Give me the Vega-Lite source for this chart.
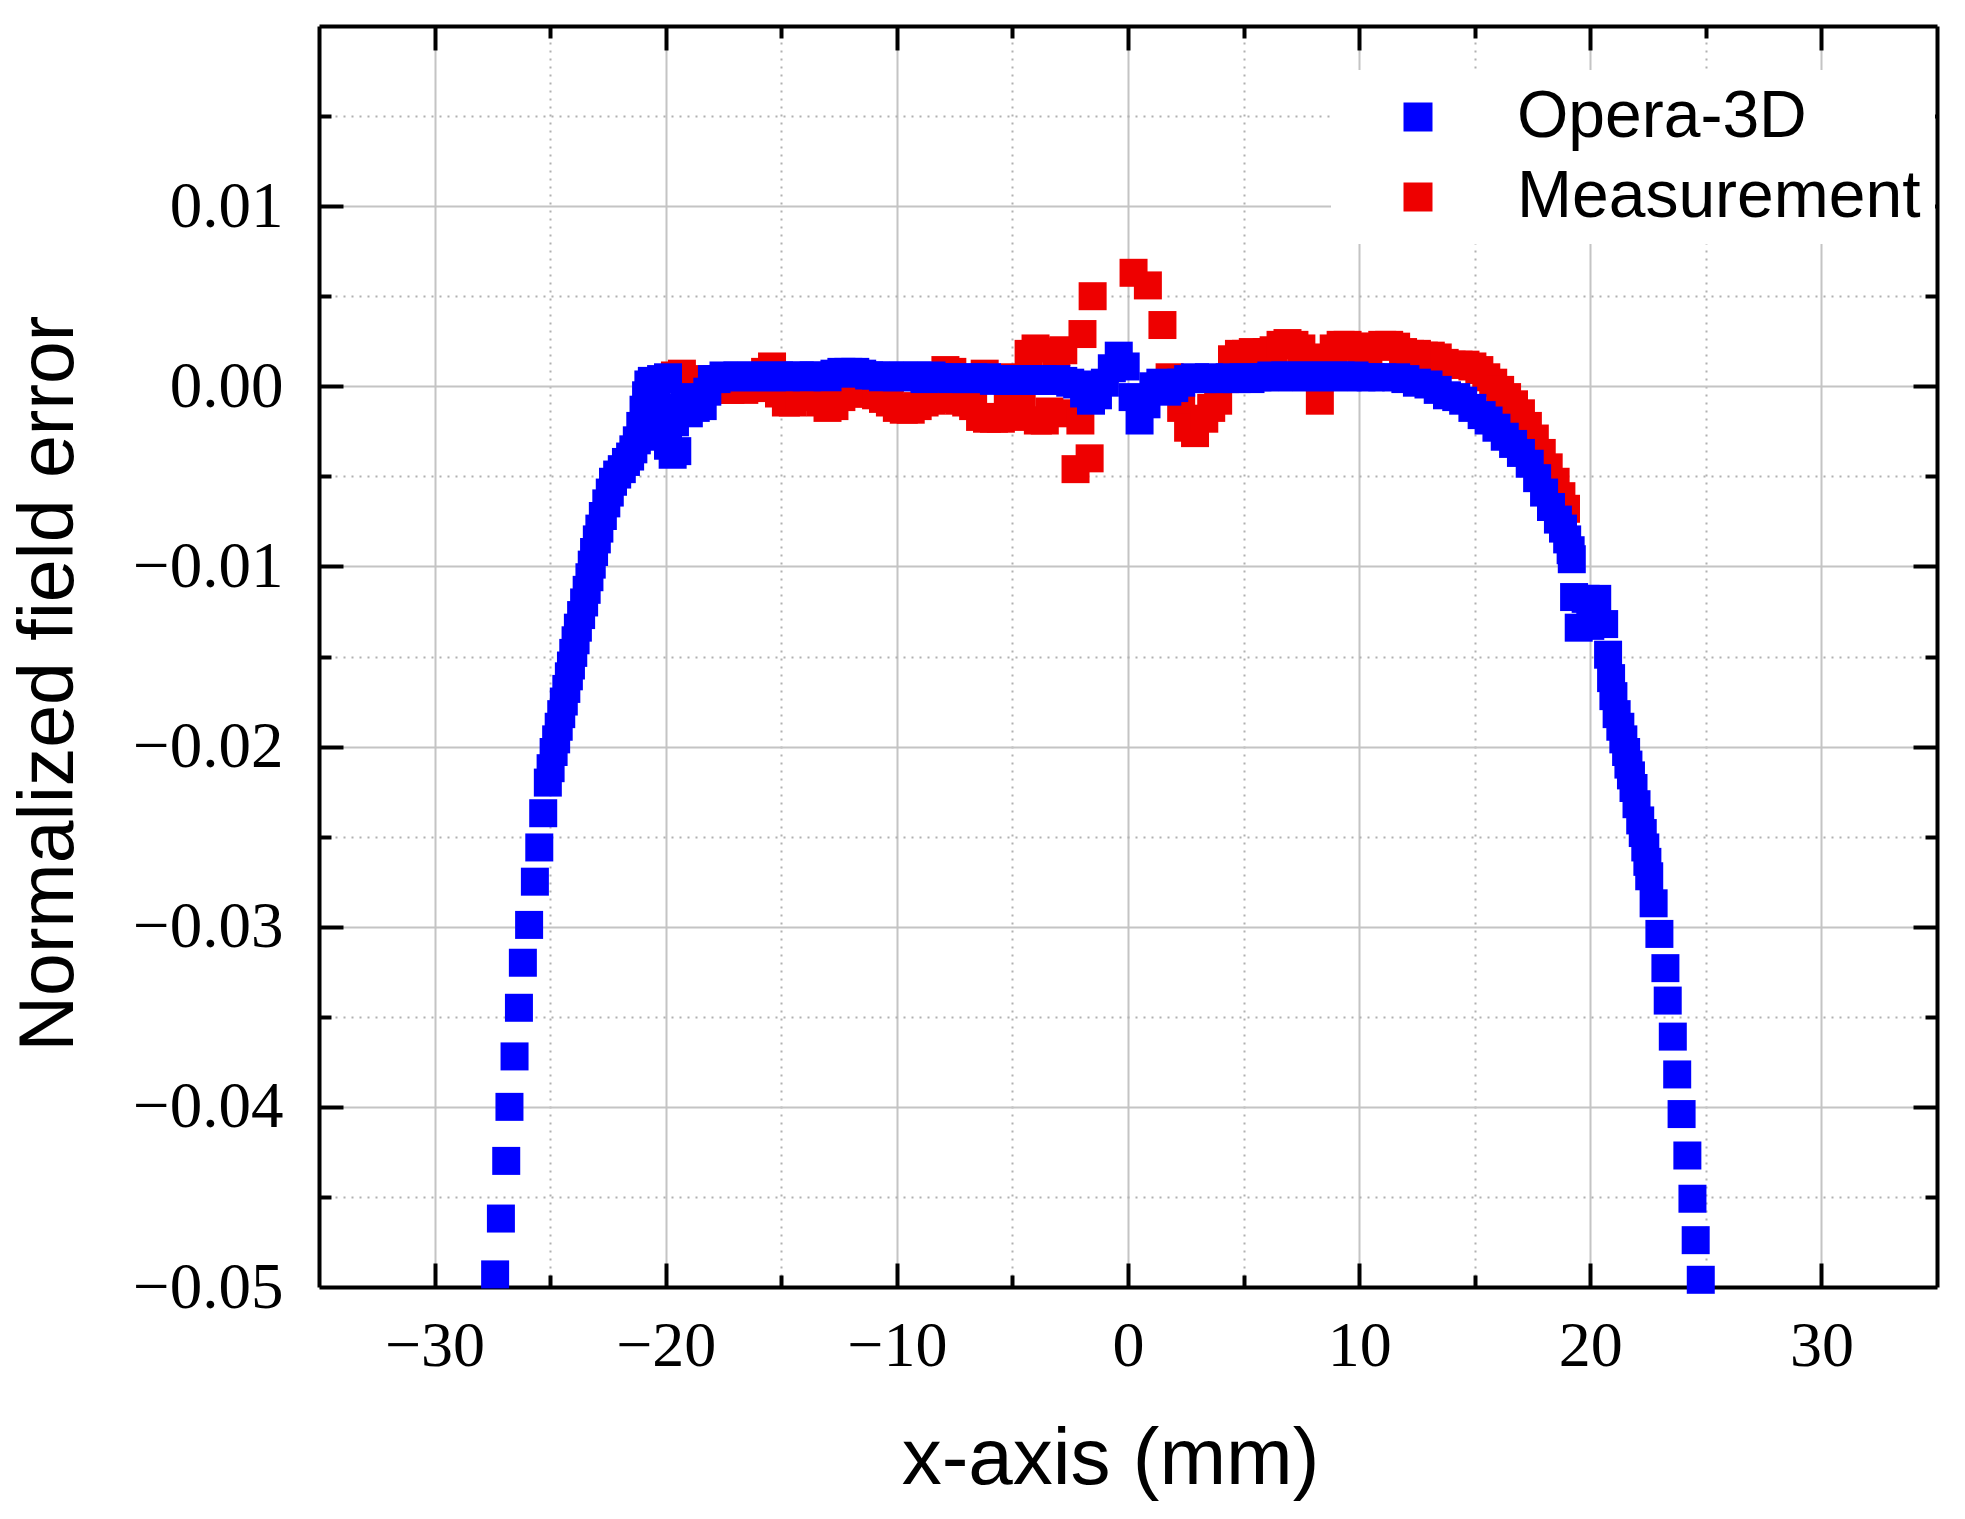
{
"$schema": "https://vega.github.io/schema/vega-lite/v6.json",
"width": 1618, "height": 1261,
"autosize": "none",
"padding": {"left": 319, "top": 26, "right": 28, "bottom": 232},
"background": "white",
"config": {"view": {"stroke": null}},
"datasets": {
"pts": [
{"s":"Measurement","x":-19.6,"y":0.0006},{"s":"Measurement","x":-19.3,"y":0.0007},{"s":"Measurement","x":-19.0,"y":0.0004},{"s":"Measurement","x":-18.7,"y":0.0002},{"s":"Measurement","x":-18.4,"y":0.0},{"s":"Measurement","x":-18.1,"y":-0.0001},{"s":"Measurement","x":-17.8,"y":-0.0002},{"s":"Measurement","x":-17.5,"y":-0.0001},{"s":"Measurement","x":-17.2,"y":-0.0002},{"s":"Measurement","x":-16.9,"y":-0.0001},{"s":"Measurement","x":-16.6,"y":-0.0002},{"s":"Measurement","x":-16.3,"y":-0.0001},{"s":"Measurement","x":-16.0,"y":0.0002},{"s":"Measurement","x":-15.7,"y":0.0008},{"s":"Measurement","x":-15.4,"y":0.0011},{"s":"Measurement","x":-15.1,"y":-0.0004},{"s":"Measurement","x":-14.8,"y":-0.0009},{"s":"Measurement","x":-14.5,"y":-0.0009},{"s":"Measurement","x":-14.2,"y":-0.0006},{"s":"Measurement","x":-13.9,"y":-0.0004},{"s":"Measurement","x":-13.6,"y":-0.0005},{"s":"Measurement","x":-13.3,"y":-0.0009},{"s":"Measurement","x":-13.0,"y":-0.0012},{"s":"Measurement","x":-12.7,"y":-0.0011},{"s":"Measurement","x":-12.4,"y":-0.0006},{"s":"Measurement","x":-12.1,"y":-0.0004},{"s":"Measurement","x":-11.8,"y":-0.0003},{"s":"Measurement","x":-11.5,"y":-0.0004},{"s":"Measurement","x":-11.2,"y":-0.0004},{"s":"Measurement","x":-10.9,"y":-0.0005},{"s":"Measurement","x":-10.6,"y":-0.0007},{"s":"Measurement","x":-10.3,"y":-0.0009},{"s":"Measurement","x":-10.0,"y":-0.0012},{"s":"Measurement","x":-9.7,"y":-0.0013},{"s":"Measurement","x":-9.4,"y":-0.0013},{"s":"Measurement","x":-9.1,"y":-0.0011},{"s":"Measurement","x":-8.8,"y":-0.0009},{"s":"Measurement","x":-8.5,"y":-0.0008},{"s":"Measurement","x":-8.2,"y":-0.0007},{"s":"Measurement","x":-7.9,"y":0.0009},{"s":"Measurement","x":-7.6,"y":0.0008},{"s":"Measurement","x":-7.3,"y":-0.0008},{"s":"Measurement","x":-7.0,"y":-0.0009},{"s":"Measurement","x":-6.7,"y":-0.0011},{"s":"Measurement","x":-6.4,"y":-0.0017},{"s":"Measurement","x":-6.2,"y":0.0007},{"s":"Measurement","x":-6.1,"y":-0.0018},{"s":"Measurement","x":-5.8,"y":-0.0018},{"s":"Measurement","x":-5.5,"y":-0.0018},{"s":"Measurement","x":-5.2,"y":-0.0012},{"s":"Measurement","x":-5.2,"y":0.0005},{"s":"Measurement","x":-4.9,"y":-0.0017},{"s":"Measurement","x":-4.6,"y":-0.001},{"s":"Measurement","x":-4.3,"y":0.0018},{"s":"Measurement","x":-4.0,"y":0.0021},{"s":"Measurement","x":-3.9,"y":-0.0019},{"s":"Measurement","x":-3.6,"y":-0.0019},{"s":"Measurement","x":-3.4,"y":-0.0014},{"s":"Measurement","x":-3.1,"y":0.0019},{"s":"Measurement","x":-2.8,"y":0.002},{"s":"Measurement","x":-2.5,"y":-0.0015},{"s":"Measurement","x":-2.06,"y":-0.0019},{"s":"Measurement","x":-2.27,"y":-0.0046},{"s":"Measurement","x":-1.66,"y":-0.004},{"s":"Measurement","x":-1.97,"y":0.0029},{"s":"Measurement","x":-1.53,"y":0.005},{"s":"Measurement","x":0.24,"y":0.0063},{"s":"Measurement","x":0.86,"y":0.0056},{"s":"Measurement","x":1.49,"y":0.0034},{"s":"Measurement","x":1.8,"y":0.0005},{"s":"Measurement","x":2.3,"y":-0.0012},{"s":"Measurement","x":2.6,"y":-0.0023},{"s":"Measurement","x":2.9,"y":-0.0026},{"s":"Measurement","x":3.3,"y":-0.0018},{"s":"Measurement","x":3.6,"y":-0.0012},{"s":"Measurement","x":3.9,"y":-0.0008},{"s":"Measurement","x":4.2,"y":0.0004},{"s":"Measurement","x":4.5,"y":0.0015},{"s":"Measurement","x":4.8,"y":0.0018},{"s":"Measurement","x":5.1,"y":0.0018},{"s":"Measurement","x":5.4,"y":0.0019},{"s":"Measurement","x":5.7,"y":0.0018},{"s":"Measurement","x":6.0,"y":0.0019},{"s":"Measurement","x":6.3,"y":0.002},{"s":"Measurement","x":6.6,"y":0.0023},{"s":"Measurement","x":6.9,"y":0.0024},{"s":"Measurement","x":7.2,"y":0.0023},{"s":"Measurement","x":7.5,"y":0.0021},{"s":"Measurement","x":7.8,"y":0.0016},{"s":"Measurement","x":8.1,"y":0.0006},{"s":"Measurement","x":8.3,"y":-0.0008},{"s":"Measurement","x":8.6,"y":0.0012},{"s":"Measurement","x":8.9,"y":0.0021},{"s":"Measurement","x":9.2,"y":0.0023},{"s":"Measurement","x":9.5,"y":0.0023},{"s":"Measurement","x":9.8,"y":0.0022},{"s":"Measurement","x":10.1,"y":0.0021},{"s":"Measurement","x":10.4,"y":0.0018},{"s":"Measurement","x":10.7,"y":0.0022},{"s":"Measurement","x":11.0,"y":0.0023},{"s":"Measurement","x":11.3,"y":0.0023},{"s":"Measurement","x":11.6,"y":0.0022},{"s":"Measurement","x":11.9,"y":0.0019},{"s":"Measurement","x":12.2,"y":0.0018},{"s":"Measurement","x":12.5,"y":0.0018},{"s":"Measurement","x":12.8,"y":0.0017},{"s":"Measurement","x":13.1,"y":0.0017},{"s":"Measurement","x":13.4,"y":0.0016},{"s":"Measurement","x":13.7,"y":0.0013},{"s":"Measurement","x":14.0,"y":0.0012},{"s":"Measurement","x":14.3,"y":0.0012},{"s":"Measurement","x":14.6,"y":0.0012},{"s":"Measurement","x":14.9,"y":0.0011},{"s":"Measurement","x":15.2,"y":0.0009},{"s":"Measurement","x":15.5,"y":0.0005},{"s":"Measurement","x":15.8,"y":0.0002},{"s":"Measurement","x":16.1,"y":-0.0002},{"s":"Measurement","x":16.4,"y":-0.0006},{"s":"Measurement","x":16.7,"y":-0.001},{"s":"Measurement","x":17.0,"y":-0.0015},{"s":"Measurement","x":17.3,"y":-0.0022},{"s":"Measurement","x":17.6,"y":-0.0029},{"s":"Measurement","x":17.9,"y":-0.0037},{"s":"Measurement","x":18.2,"y":-0.0045},{"s":"Measurement","x":18.5,"y":-0.0053},{"s":"Measurement","x":18.75,"y":-0.0061},{"s":"Measurement","x":18.95,"y":-0.0068},
{"s":"Opera-3D","x":-27.38,"y":-0.0493},{"s":"Opera-3D","x":-27.13,"y":-0.0462},{"s":"Opera-3D","x":-26.9,"y":-0.043},{"s":"Opera-3D","x":-26.76,"y":-0.04},{"s":"Opera-3D","x":-26.54,"y":-0.0372},{"s":"Opera-3D","x":-26.35,"y":-0.0345},{"s":"Opera-3D","x":-26.18,"y":-0.032},{"s":"Opera-3D","x":-25.91,"y":-0.0299},{"s":"Opera-3D","x":-25.66,"y":-0.0275},{"s":"Opera-3D","x":-25.47,"y":-0.0256},{"s":"Opera-3D","x":-25.3,"y":-0.0237},
{"s":"Opera-3D","x":-25.1,"y":-0.022},{"s":"Opera-3D","x":-24.98,"y":-0.0212},{"s":"Opera-3D","x":-24.85,"y":-0.0203},{"s":"Opera-3D","x":-24.74,"y":-0.0196},{"s":"Opera-3D","x":-24.63,"y":-0.0189},{"s":"Opera-3D","x":-24.52,"y":-0.0182},{"s":"Opera-3D","x":-24.41,"y":-0.0175},{"s":"Opera-3D","x":-24.3,"y":-0.0168},{"s":"Opera-3D","x":-24.19,"y":-0.0161},{"s":"Opera-3D","x":-24.1,"y":-0.0155},{"s":"Opera-3D","x":-24.0,"y":-0.0148},{"s":"Opera-3D","x":-23.9,"y":-0.0141},{"s":"Opera-3D","x":-23.8,"y":-0.0134},{"s":"Opera-3D","x":-23.66,"y":-0.0127},{"s":"Opera-3D","x":-23.53,"y":-0.012},{"s":"Opera-3D","x":-23.42,"y":-0.0113},{"s":"Opera-3D","x":-23.3,"y":-0.0106},{"s":"Opera-3D","x":-23.2,"y":-0.0099},{"s":"Opera-3D","x":-23.1,"y":-0.0092},{"s":"Opera-3D","x":-22.98,"y":-0.0085},{"s":"Opera-3D","x":-22.87,"y":-0.0079},{"s":"Opera-3D","x":-22.72,"y":-0.0072},{"s":"Opera-3D","x":-22.57,"y":-0.0065},{"s":"Opera-3D","x":-22.42,"y":-0.0059},{"s":"Opera-3D","x":-22.28,"y":-0.0053},{"s":"Opera-3D","x":-22.1,"y":-0.0049},{"s":"Opera-3D","x":-21.9,"y":-0.0046},{"s":"Opera-3D","x":-21.72,"y":-0.0042},{"s":"Opera-3D","x":-21.54,"y":-0.0039},{"s":"Opera-3D","x":-21.4,"y":-0.0035},{"s":"Opera-3D","x":-21.25,"y":-0.003},{"s":"Opera-3D","x":-21.1,"y":-0.0022},{"s":"Opera-3D","x":-20.96,"y":-0.0013},{"s":"Opera-3D","x":-20.85,"y":-0.0005},{"s":"Opera-3D","x":-20.75,"y":0.0001},
{"s":"Opera-3D","x":-20.6,"y":0.0003},{"s":"Opera-3D","x":-20.4,"y":-0.0008},{"s":"Opera-3D","x":-20.3,"y":-0.002},{"s":"Opera-3D","x":-20.1,"y":-0.0028},{"s":"Opera-3D","x":-19.9,"y":-0.0033},{"s":"Opera-3D","x":-19.7,"y":-0.0038},{"s":"Opera-3D","x":-19.5,"y":-0.0036},{"s":"Opera-3D","x":-19.6,"y":-0.002},{"s":"Opera-3D","x":-19.4,"y":-0.0012},{"s":"Opera-3D","x":-19.2,"y":-0.0006},{"s":"Opera-3D","x":-20.2,"y":0.0004},{"s":"Opera-3D","x":-19.9,"y":0.0005},{"s":"Opera-3D","x":-19.0,"y":-0.0015},{"s":"Opera-3D","x":-18.7,"y":-0.0012},{"s":"Opera-3D","x":-18.4,"y":-0.0011},{"s":"Opera-3D","x":-18.2,"y":-0.0003},{"s":"Opera-3D","x":-18.0,"y":0.0004},
{"s":"Opera-3D","x":-17.8,"y":0.0004},{"s":"Opera-3D","x":-17.5,"y":0.0006},{"s":"Opera-3D","x":-17.2,"y":0.0005},{"s":"Opera-3D","x":-16.9,"y":0.0006},{"s":"Opera-3D","x":-16.6,"y":0.0005},{"s":"Opera-3D","x":-16.3,"y":0.0006},{"s":"Opera-3D","x":-16.0,"y":0.0005},{"s":"Opera-3D","x":-15.7,"y":0.0006},{"s":"Opera-3D","x":-15.4,"y":0.0005},{"s":"Opera-3D","x":-15.1,"y":0.0006},{"s":"Opera-3D","x":-14.8,"y":0.0005},{"s":"Opera-3D","x":-14.5,"y":0.0006},{"s":"Opera-3D","x":-14.2,"y":0.0006},{"s":"Opera-3D","x":-13.9,"y":0.0005},{"s":"Opera-3D","x":-13.6,"y":0.0006},{"s":"Opera-3D","x":-13.3,"y":0.0006},{"s":"Opera-3D","x":-13.0,"y":0.0005},{"s":"Opera-3D","x":-12.7,"y":0.0007},{"s":"Opera-3D","x":-12.4,"y":0.0008},{"s":"Opera-3D","x":-12.1,"y":0.0008},{"s":"Opera-3D","x":-11.8,"y":0.0008},{"s":"Opera-3D","x":-11.5,"y":0.0007},{"s":"Opera-3D","x":-11.2,"y":0.0006},{"s":"Opera-3D","x":-10.9,"y":0.0006},{"s":"Opera-3D","x":-10.6,"y":0.0005},{"s":"Opera-3D","x":-10.3,"y":0.0006},{"s":"Opera-3D","x":-10.0,"y":0.0005},{"s":"Opera-3D","x":-9.7,"y":0.0006},{"s":"Opera-3D","x":-9.4,"y":0.0005},{"s":"Opera-3D","x":-9.1,"y":0.0006},{"s":"Opera-3D","x":-8.8,"y":0.0004},{"s":"Opera-3D","x":-8.5,"y":0.0006},{"s":"Opera-3D","x":-8.2,"y":0.0005},{"s":"Opera-3D","x":-7.9,"y":0.0005},{"s":"Opera-3D","x":-7.6,"y":0.0004},{"s":"Opera-3D","x":-7.3,"y":0.0005},{"s":"Opera-3D","x":-7.0,"y":0.0004},{"s":"Opera-3D","x":-6.7,"y":0.0005},{"s":"Opera-3D","x":-6.4,"y":0.0004},{"s":"Opera-3D","x":-6.1,"y":0.0005},{"s":"Opera-3D","x":-5.8,"y":0.0003},{"s":"Opera-3D","x":-5.5,"y":0.0004},{"s":"Opera-3D","x":-5.2,"y":0.0003},{"s":"Opera-3D","x":-4.9,"y":0.0004},{"s":"Opera-3D","x":-4.6,"y":0.0003},{"s":"Opera-3D","x":-4.3,"y":0.0004},{"s":"Opera-3D","x":-4.0,"y":0.0003},{"s":"Opera-3D","x":-3.7,"y":0.0004},{"s":"Opera-3D","x":-3.4,"y":0.0003},{"s":"Opera-3D","x":-3.1,"y":0.0004},{"s":"Opera-3D","x":-2.8,"y":0.0003},{"s":"Opera-3D","x":-2.5,"y":0.0002},{"s":"Opera-3D","x":-2.2,"y":0.0001},{"s":"Opera-3D","x":-1.9,"y":-0.0004},{"s":"Opera-3D","x":-1.6,"y":-0.0008},{"s":"Opera-3D","x":-1.3,"y":-0.0005},{"s":"Opera-3D","x":-1.0,"y":0.0002},{"s":"Opera-3D","x":-0.7,"y":0.001},{"s":"Opera-3D","x":-0.4,"y":0.0017},{"s":"Opera-3D","x":-0.1,"y":0.0011},{"s":"Opera-3D","x":0.2,"y":-0.0006},{"s":"Opera-3D","x":0.5,"y":-0.0019},{"s":"Opera-3D","x":0.8,"y":-0.001},{"s":"Opera-3D","x":1.1,"y":0.0},{"s":"Opera-3D","x":1.4,"y":0.0002},{"s":"Opera-3D","x":1.7,"y":-0.0003},{"s":"Opera-3D","x":2.0,"y":-0.0001},{"s":"Opera-3D","x":2.3,"y":0.0002},{"s":"Opera-3D","x":2.6,"y":0.0004},{"s":"Opera-3D","x":2.9,"y":0.0005},{"s":"Opera-3D","x":3.2,"y":0.0004},{"s":"Opera-3D","x":3.5,"y":0.0005},{"s":"Opera-3D","x":3.8,"y":0.0004},{"s":"Opera-3D","x":4.1,"y":0.0004},{"s":"Opera-3D","x":4.4,"y":0.0005},{"s":"Opera-3D","x":4.7,"y":0.0004},{"s":"Opera-3D","x":5.0,"y":0.0005},{"s":"Opera-3D","x":5.3,"y":0.0004},{"s":"Opera-3D","x":5.6,"y":0.0005},{"s":"Opera-3D","x":5.9,"y":0.0005},{"s":"Opera-3D","x":6.2,"y":0.0006},{"s":"Opera-3D","x":6.5,"y":0.0005},{"s":"Opera-3D","x":6.8,"y":0.0006},{"s":"Opera-3D","x":7.1,"y":0.0005},{"s":"Opera-3D","x":7.4,"y":0.0006},{"s":"Opera-3D","x":7.7,"y":0.0005},{"s":"Opera-3D","x":8.0,"y":0.0006},{"s":"Opera-3D","x":8.3,"y":0.0005},{"s":"Opera-3D","x":8.6,"y":0.0006},{"s":"Opera-3D","x":8.9,"y":0.0005},{"s":"Opera-3D","x":9.2,"y":0.0006},{"s":"Opera-3D","x":9.5,"y":0.0005},{"s":"Opera-3D","x":9.8,"y":0.0006},{"s":"Opera-3D","x":10.1,"y":0.0005},
{"s":"Opera-3D","x":10.5,"y":0.0005},{"s":"Opera-3D","x":11.0,"y":0.0005},{"s":"Opera-3D","x":11.6,"y":0.0005},{"s":"Opera-3D","x":12.0,"y":0.0004},{"s":"Opera-3D","x":12.5,"y":0.0002},{"s":"Opera-3D","x":13.0,"y":0.0001},{"s":"Opera-3D","x":13.4,"y":-0.0002},{"s":"Opera-3D","x":13.8,"y":-0.0005},{"s":"Opera-3D","x":14.2,"y":-0.0006},{"s":"Opera-3D","x":14.5,"y":-0.0008},{"s":"Opera-3D","x":14.9,"y":-0.0012},{"s":"Opera-3D","x":15.3,"y":-0.0016},{"s":"Opera-3D","x":15.6,"y":-0.0019},{"s":"Opera-3D","x":15.94,"y":-0.0023},{"s":"Opera-3D","x":16.3,"y":-0.0028},{"s":"Opera-3D","x":16.66,"y":-0.0032},{"s":"Opera-3D","x":17.0,"y":-0.0037},{"s":"Opera-3D","x":17.38,"y":-0.0043},{"s":"Opera-3D","x":17.7,"y":-0.0051},{"s":"Opera-3D","x":18.0,"y":-0.0059},{"s":"Opera-3D","x":18.3,"y":-0.0067},{"s":"Opera-3D","x":18.6,"y":-0.0074},{"s":"Opera-3D","x":18.82,"y":-0.0079},{"s":"Opera-3D","x":19.0,"y":-0.0085},{"s":"Opera-3D","x":19.15,"y":-0.0091},{"s":"Opera-3D","x":19.2,"y":-0.0096},
{"s":"Opera-3D","x":19.3,"y":-0.0117},{"s":"Opera-3D","x":19.8,"y":-0.0118},{"s":"Opera-3D","x":20.3,"y":-0.0118},{"s":"Opera-3D","x":19.5,"y":-0.0134},{"s":"Opera-3D","x":20.0,"y":-0.0133},{"s":"Opera-3D","x":20.6,"y":-0.0132},{"s":"Opera-3D","x":20.77,"y":-0.0149},{"s":"Opera-3D","x":20.9,"y":-0.0162},{"s":"Opera-3D","x":21.0,"y":-0.0172},{"s":"Opera-3D","x":21.14,"y":-0.0182},{"s":"Opera-3D","x":21.3,"y":-0.0189},{"s":"Opera-3D","x":21.43,"y":-0.0196},{"s":"Opera-3D","x":21.55,"y":-0.0203},{"s":"Opera-3D","x":21.65,"y":-0.021},{"s":"Opera-3D","x":21.76,"y":-0.0216},{"s":"Opera-3D","x":21.87,"y":-0.0223},{"s":"Opera-3D","x":22.0,"y":-0.0232},{"s":"Opera-3D","x":22.16,"y":-0.0241},{"s":"Opera-3D","x":22.27,"y":-0.0248},{"s":"Opera-3D","x":22.38,"y":-0.0256},{"s":"Opera-3D","x":22.47,"y":-0.0264},{"s":"Opera-3D","x":22.55,"y":-0.0272},{"s":"Opera-3D","x":22.74,"y":-0.0287},{"s":"Opera-3D","x":22.99,"y":-0.0304},{"s":"Opera-3D","x":23.25,"y":-0.0323},{"s":"Opera-3D","x":23.35,"y":-0.0341},{"s":"Opera-3D","x":23.57,"y":-0.0361},{"s":"Opera-3D","x":23.76,"y":-0.0382},{"s":"Opera-3D","x":23.95,"y":-0.0404},{"s":"Opera-3D","x":24.2,"y":-0.0427},{"s":"Opera-3D","x":24.42,"y":-0.0451},{"s":"Opera-3D","x":24.56,"y":-0.0474},{"s":"Opera-3D","x":24.78,"y":-0.0496}
]
},
"data": {"name": "pts"},
"layer": [
{
"mark": {"type": "square", "size": 784, "opacity": 1},
"encoding": {
"x": {"field": "x", "type": "quantitative", "scale": {"domain": [-35, 35], "nice": false, "zero": false},
 "axis": {"orient": "bottom", "values": [-30,-20,-10,0,10,20,30], "format": "d", "ticks": false, "tickSize": 0, "labelPadding": 78, "labelBaseline": "alphabetic", "labelFont": "Liberation Serif", "labelFontSize": 64, "labelColor": "black", "labelFlush": false, "labelOverlap": false,
  "grid": true, "gridColor": "#c4c4c4", "gridWidth": 2, "domain": true, "domainColor": "black", "domainWidth": 4,
  "title": "x-axis (mm)", "titleFont": "Liberation Sans", "titleFontSize": 80, "titleFontWeight": "normal", "titleColor": "black", "titleBaseline": "alphabetic", "titleX": 791, "titleY": 196}},
"y": {"field": "y", "type": "quantitative", "scale": {"domain": [-0.05, 0.02], "nice": false, "zero": false},
 "axis": {"orient": "left", "values": [-0.05,-0.04,-0.03,-0.02,-0.01,0,0.01], "format": ".2f", "ticks": false, "tickSize": 0, "labelPadding": 36, "labelFont": "Liberation Serif", "labelFontSize": 65, "labelColor": "black", "labelFlush": false, "labelOverlap": false,
  "grid": true, "gridColor": "#c4c4c4", "gridWidth": 2, "domain": true, "domainColor": "black", "domainWidth": 4,
  "title": "Normalized field error", "titleFont": "Liberation Sans", "titleFontSize": 77, "titleFontWeight": "normal", "titleColor": "black", "titleBaseline": "alphabetic", "titleAngle": -90, "titleAlign": "center", "titleX": -247, "titleY": 657}},
"color": {"field": "s", "type": "nominal", "scale": {"domain": ["Opera-3D", "Measurement"], "range": ["#0000ff", "#ee0000"]},
 "legend": {"title": null, "orient": "none", "legendX": 1012, "legendY": 44, "fillColor": "white", "padding": 14, "symbolOffset": 40, "symbolType": "square", "symbolSize": 841, "symbolStrokeWidth": 0, "labelFont": "Liberation Sans", "labelFontSize": 66, "labelColor": "black", "labelOffset": 66, "rowPadding": 14, "labelLimit": 0}}
}
},
{
"mark": {"type": "square", "size": 10, "opacity": 0},
"encoding": {
"x": {"field": "x", "type": "quantitative", "axis": {"orient": "bottom", "values": [-25,-15,-5,5,15,25], "labels": false, "domain": false, "title": null, "grid": true, "gridColor": "#b0b0b0", "gridWidth": 2, "gridDash": [2, 6], "ticks": true, "tickSize": -12, "tickWidth": 4, "tickColor": "black"}},
"y": {"field": "y", "type": "quantitative", "axis": {"orient": "left", "values": [-0.045,-0.035,-0.025,-0.015,-0.005,0.005,0.015], "labels": false, "domain": false, "title": null, "grid": true, "gridColor": "#b0b0b0", "gridWidth": 2, "gridDash": [2, 6], "ticks": true, "tickSize": -12, "tickWidth": 4, "tickColor": "black"}}
}
},
{
"mark": {"type": "square", "size": 10, "opacity": 0},
"encoding": {
"x": {"field": "x", "type": "quantitative", "axis": {"orient": "bottom", "values": [-30,-20,-10,0,10,20,30], "labels": false, "domain": false, "title": null, "grid": false, "ticks": true, "tickSize": -24, "tickWidth": 4, "tickColor": "black"}},
"y": {"field": "y", "type": "quantitative", "axis": {"orient": "left", "values": [-0.04,-0.03,-0.02,-0.01,0,0.01], "labels": false, "domain": false, "title": null, "grid": false, "ticks": true, "tickSize": -24, "tickWidth": 4, "tickColor": "black"}}
}
},
{
"mark": {"type": "square", "size": 10, "opacity": 0},
"encoding": {
"x": {"field": "x", "type": "quantitative", "axis": {"orient": "top", "values": [-30,-20,-10,0,10,20,30], "labels": false, "domain": true, "domainColor": "black", "domainWidth": 4, "title": null, "grid": false, "ticks": true, "tickSize": -24, "tickWidth": 4, "tickColor": "black"}},
"y": {"field": "y", "type": "quantitative", "axis": {"orient": "right", "values": [-0.04,-0.03,-0.02,-0.01,0,0.01], "labels": false, "domain": true, "domainColor": "black", "domainWidth": 4, "title": null, "grid": false, "ticks": true, "tickSize": -24, "tickWidth": 4, "tickColor": "black"}}
}
},
{
"mark": {"type": "square", "size": 10, "opacity": 0},
"encoding": {
"x": {"field": "x", "type": "quantitative", "axis": {"orient": "top", "values": [-25,-15,-5,5,15,25], "labels": false, "domain": false, "title": null, "grid": false, "ticks": true, "tickSize": -12, "tickWidth": 4, "tickColor": "black"}},
"y": {"field": "y", "type": "quantitative", "axis": {"orient": "right", "values": [-0.045,-0.035,-0.025,-0.015,-0.005,0.005,0.015], "labels": false, "domain": false, "title": null, "grid": false, "ticks": true, "tickSize": -12, "tickWidth": 4, "tickColor": "black"}}
}
}
],
"resolve": {"axis": {"x": "independent", "y": "independent"}}
}
